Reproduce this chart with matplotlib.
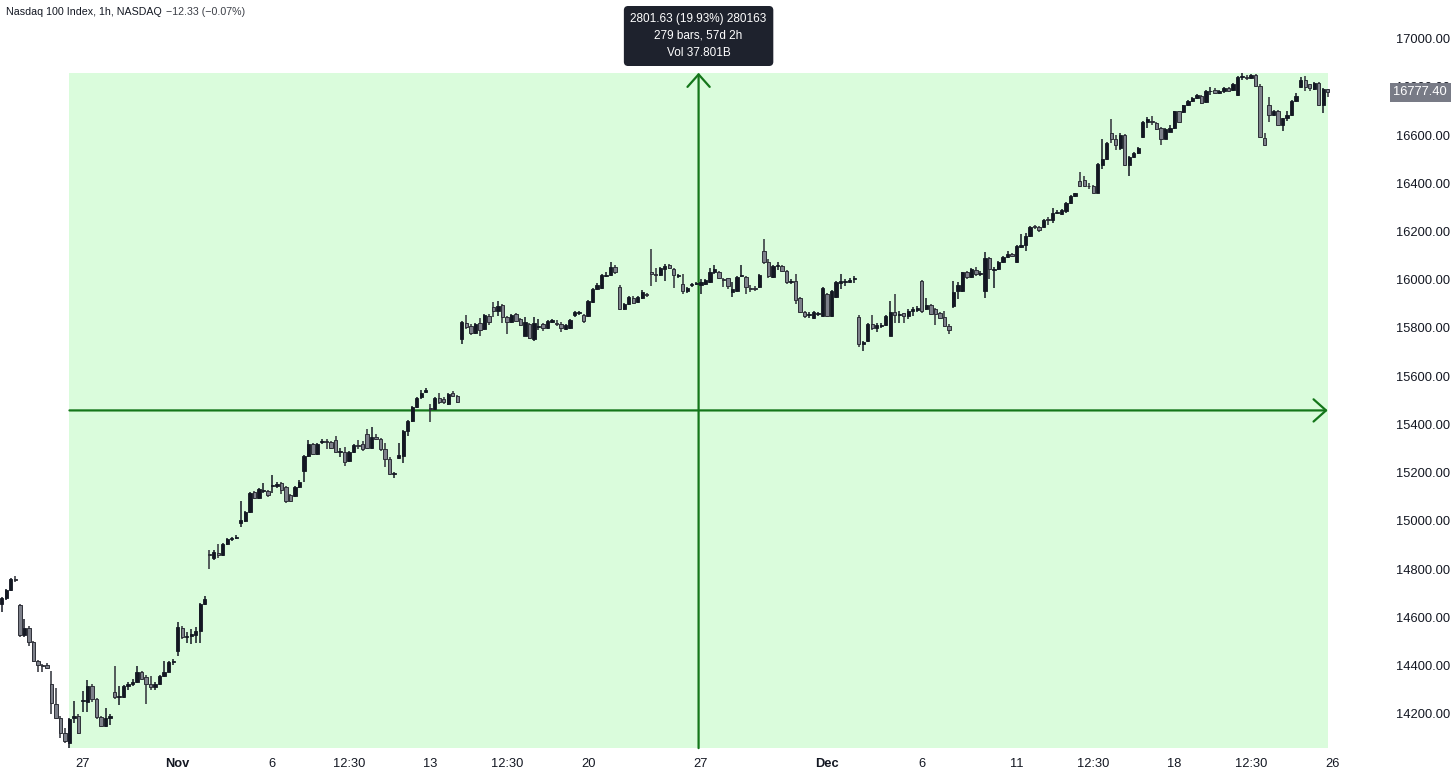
import numpy as np
import matplotlib.pyplot as plt
import matplotlib.transforms as mtransforms
from matplotlib.patches import Rectangle

plt.rcParams['font.family'] = ['Liberation Sans', 'DejaVu Sans']

# hourly NDX bars, one row per session (Oct 24 partial ... Dec 22)
opens = [
    14656, 14681, 14714, 14758,
    14652, 14528, 14557, 14499, 14420, 14404, 14404,
    14325, 14242, 14184, 14118, 14077, 14184, 14192,
    14254, 14250, 14317, 14263, 14188, 14151, 14184,
    14292, 14271, 14271, 14313, 14325, 14333, 14375,
    14354, 14325, 14312, 14325, 14358, 14375, 14416,
    14462, 14557, 14520, 14524, 14528, 14544, 14656,
    14860, 14847, 14868, 14860, 14905, 14925, 14928,
    14992, 15000, 15037, 15120, 15095, 15124, 15124,
    15145, 15145, 15157, 15141, 15108, 15104, 15141,
    15207, 15269, 15319, 15277, 15327, 15331, 15327,
    15335, 15286, 15286, 15248, 15286, 15314, 15319,
    15360, 15302, 15348, 15340, 15298, 15257, 15195,
    15261, 15269, 15373, 15414, 15472, 15513, 15534,
    15468, 15464, 15509, 15505, 15484, 15530, 15518,
    15754, 15820, 15808, 15778, 15820, 15795, 15849,
    15886, 15870, 15895, 15845, 15824, 15857, 15836,
    15766, 15816, 15754, 15803, 15816, 15799, 15824,
    15820, 15816, 15795, 15799, 15853, 15862, 15853,
    15849, 15907, 15961, 15965, 16015, 16019, 16052,
    15969, 15878, 15899, 15924, 15907, 15924, 15940,
    16031, 16023, 16019, 16044, 16060, 16044, 16015,
    15981, 15952, 15977, 15981,
    15977, 15981, 15990, 16031, 16031, 16002, 16006,
    15948, 15952, 16015, 16010, 15965, 15965, 15969,
    16118, 16073, 16010, 16056, 16056, 16035, 15990,
    15994, 15924, 15866, 15853, 15841, 15857, 15849,
    15940, 15849, 15928, 15985, 15990, 15990, 16002,
    15845, 15733, 15745, 15816, 15799, 15807, 15812,
    15766, 15866, 15853, 15862, 15849, 15870, 15874,
    15994, 15878, 15895, 15878, 15862, 15845, 15808,
    15891, 15952, 15952, 16031, 16010, 16040, 16023,
    15952, 16089, 16040, 16044, 16073, 16093, 16106,
    16073, 16135, 16143, 16180, 16225, 16220, 16217,
    16254, 16246, 16279, 16271, 16284, 16317, 16346,
    16408, 16412, 16391, 16391, 16362, 16478, 16499,
    16607, 16586, 16545, 16602, 16478, 16511, 16524,
    16594, 16656, 16660, 16652, 16631, 16586, 16615,
    16631, 16698, 16694, 16723, 16743, 16752, 16764,
    16739, 16781, 16789, 16776, 16781, 16797, 16789,
    16768, 16843, 16840, 16838, 16851, 16805, 16590,
    16723, 16685, 16702, 16644, 16669, 16685, 16743,
    16801, 16830, 16810, 16793, 16818, 16723, 16789.73,
]
highs = [
    14685, 14718, 14764, 14770,
    14656, 14594, 14562, 14503, 14424, 14408, 14412,
    14379, 14308, 14190, 14139, 14184, 14254, 14198,
    14296, 14338, 14325, 14267, 14192, 14225, 14200,
    14400, 14317, 14321, 14330, 14342, 14400, 14379,
    14362, 14358, 14330, 14362, 14420, 14420, 14428,
    14580, 14565, 14540, 14550, 14560, 14660, 14690,
    14880, 14880, 14905, 14910, 14930, 14935, 14940,
    15083, 15040, 15120, 15124, 15136, 15157, 15128,
    15190, 15160, 15161, 15145, 15112, 15145, 15170,
    15273, 15335, 15323, 15323, 15340, 15340, 15331,
    15352, 15302, 15306, 15290, 15318, 15335, 15331,
    15381, 15390, 15360, 15344, 15323, 15265, 15203,
    15323, 15377, 15418, 15476, 15513, 15542, 15550,
    15484, 15513, 15530, 15513, 15530, 15538, 15522,
    15828, 15853, 15816, 15820, 15841, 15857, 15857,
    15907, 15911, 15899, 15849, 15857, 15862, 15840,
    15845, 15820, 15845, 15836, 15820, 15832, 15836,
    15832, 15824, 15816, 15836, 15870, 15870, 15857,
    15915, 15965, 15986, 16023, 16031, 16073, 16060,
    15977, 15903, 15932, 15932, 15932, 15957, 15944,
    16126, 16048, 16052, 16065, 16065, 16048, 16023,
    16023, 15970, 15986, 15990,
    16002, 16002, 16048, 16060, 16035, 16006, 16006,
    15990, 16015, 16060, 16015, 15977, 15973, 16023,
    16168, 16085, 16060, 16073, 16060, 16040, 16002,
    16023, 15928, 15870, 15866, 15870, 15866, 15969,
    15944, 15957, 15994, 16023, 16002, 16006, 16015,
    15853, 15745, 15820, 15853, 15820, 15820, 15853,
    15911, 15940, 15870, 15862, 15878, 15886, 15890,
    15998, 15924, 15899, 15882, 15866, 15870, 15816,
    15994, 15990, 16031, 16035, 16048, 16052, 16035,
    16114, 16093, 16052, 16077, 16098, 16118, 16110,
    16143, 16188, 16196, 16221, 16229, 16225, 16254,
    16262, 16296, 16290, 16292, 16321, 16350, 16362,
    16445, 16429, 16400, 16395, 16486, 16582, 16573,
    16665, 16602, 16607, 16606, 16515, 16528, 16549,
    16660, 16677, 16680, 16656, 16635, 16631, 16640,
    16702, 16702, 16727, 16747, 16760, 16772, 16768,
    16789, 16801, 16797, 16789, 16801, 16801, 16818,
    16847, 16858.9, 16851, 16855, 16855, 16810, 16607,
    16760, 16706, 16706, 16673, 16698, 16747, 16776,
    16843, 16845, 16814, 16822, 16822, 16797, 16793,
]
lows = [
    14623, 14672, 14710, 14748,
    14520, 14520, 14482, 14416, 14375, 14375, 14388,
    14197, 14180, 14098, 14077, 14057.27, 14160, 14114,
    14209, 14209, 14250, 14180, 14143, 14143, 14155,
    14263, 14238, 14267, 14300, 14317, 14329, 14338,
    14242, 14300, 14300, 14320, 14354, 14371, 14404,
    14440, 14510, 14495, 14490, 14495, 14495, 14650,
    14801, 14838, 14845, 14855, 14900, 14915, 14925,
    14975, 14995, 15033, 15090, 15090, 15116, 15100,
    15116, 15138, 15112, 15075, 15079, 15100, 15137,
    15161, 15265, 15273, 15273, 15319, 15300, 15298,
    15282, 15265, 15228, 15244, 15282, 15298, 15290,
    15298, 15298, 15335, 15290, 15224, 15190, 15178,
    15257, 15240, 15352, 15410, 15468, 15505, 15530,
    15410, 15460, 15484, 15484, 15480, 15513, 15489,
    15733, 15795, 15770, 15774, 15766, 15791, 15812,
    15845, 15849, 15820, 15774, 15820, 15824, 15808,
    15766, 15754, 15745, 15791, 15787, 15795, 15820,
    15808, 15783, 15791, 15795, 15845, 15853, 15820,
    15845, 15903, 15957, 15961, 16010, 16015, 16023,
    15874, 15874, 15895, 15899, 15903, 15919, 15928,
    15973, 15990, 16015, 15994, 16044, 15965, 16006,
    15940, 15944, 15969, 15977,
    15940, 15977, 15986, 16023, 16002, 15969, 15961,
    15928, 15948, 16010, 15940, 15948, 15952, 15965,
    16064, 16006, 16006, 16040, 16031, 15981, 15981,
    15899, 15862, 15841, 15841, 15837, 15849, 15845,
    15845, 15845, 15924, 15961, 15973, 15986, 15986,
    15720, 15704, 15741, 15791, 15783, 15799, 15808,
    15766, 15820, 15820, 15820, 15836, 15850, 15866,
    15862, 15874, 15853, 15812, 15836, 15803, 15774,
    15882, 15920, 15948, 16002, 16006, 16015, 16015,
    15924, 16002, 15965, 16040, 16069, 16089, 16093,
    16069, 16130, 16118, 16176, 16209, 16200, 16213,
    16229, 16237, 16271, 16267, 16279, 16313, 16342,
    16387, 16387, 16375, 16358, 16358, 16458, 16495,
    16569, 16540, 16540, 16474, 16429, 16507, 16520,
    16590, 16630, 16640, 16623, 16557, 16582, 16611,
    16627, 16652, 16690, 16719, 16739, 16748, 16731,
    16735, 16768, 16772, 16772, 16776, 16781, 16785,
    16764, 16830, 16830, 16834, 16801, 16590, 16557,
    16656, 16681, 16640, 16619, 16660, 16681, 16739,
    16797, 16781, 16781, 16789, 16719, 16690, 16760,
]
closes = [
    14681, 14714, 14760, 14755,
    14528, 14557, 14499, 14420, 14404, 14400, 14391,
    14246, 14184, 14118, 14085, 14180, 14192, 14122,
    14258, 14317, 14263, 14188, 14151, 14184, 14192,
    14271, 14275, 14317, 14325, 14333, 14375, 14342,
    14325, 14312, 14325, 14358, 14375, 14416, 14420,
    14561, 14520, 14524, 14530, 14544, 14656, 14677,
    14858, 14872, 14860, 14905, 14925, 14928, 14930,
    15004, 15037, 15116, 15095, 15132, 15128, 15108,
    15150, 15153, 15128, 15083, 15083, 15141, 15161,
    15269, 15319, 15277, 15319, 15331, 15327, 15302,
    15286, 15286, 15244, 15286, 15314, 15310, 15298,
    15302, 15348, 15340, 15298, 15257, 15195, 15199,
    15273, 15373, 15414, 15472, 15509, 15530, 15542,
    15464, 15509, 15493, 15493, 15526, 15518, 15493,
    15824, 15803, 15778, 15816, 15791, 15853, 15824,
    15870, 15890, 15845, 15824, 15853, 15828, 15812,
    15824, 15758, 15820, 15807, 15799, 15828, 15832,
    15816, 15799, 15812, 15832, 15866, 15862, 15828,
    15911, 15961, 15977, 16019, 16019, 16052, 16031,
    15878, 15899, 15928, 15903, 15928, 15948, 15936,
    16023, 16019, 16048, 16056, 16048, 16019, 16015,
    15952, 15965, 15977, 15985,
    15990, 15998, 16031, 16044, 16006, 15998, 15973,
    15961, 16010, 16019, 15969, 15961, 15961, 16019,
    16073, 16015, 16056, 16060, 16035, 15990, 15994,
    15915, 15866, 15849, 15853, 15866, 15857, 15965,
    15849, 15952, 15990, 15994, 15990, 15998, 16006,
    15733, 15741, 15816, 15799, 15812, 15812, 15849,
    15866, 15853, 15857, 15849, 15870, 15878, 15882,
    15870, 15895, 15857, 15857, 15841, 15808, 15791,
    15948, 15977, 16031, 16010, 16044, 16023, 16023,
    16089, 16044, 16044, 16073, 16093, 16106, 16098,
    16139, 16143, 16180, 16217, 16217, 16205, 16250,
    16246, 16279, 16281, 16288, 16317, 16346, 16358,
    16391, 16391, 16387, 16362, 16482, 16503, 16569,
    16582, 16557, 16602, 16478, 16511, 16524, 16545,
    16656, 16665, 16656, 16627, 16586, 16627, 16631,
    16698, 16656, 16723, 16743, 16756, 16768, 16735,
    16785, 16785, 16776, 16781, 16797, 16785, 16814,
    16843, 16845, 16838, 16851, 16805, 16594, 16561,
    16685, 16702, 16644, 16669, 16685, 16743, 16764,
    16830, 16801, 16797, 16818, 16723, 16789.73, 16777.40,
]
first_bar = -18  # bar index of the first visible bar (Oct 27 09:30 = 0)

# date labels on the time scale: (bar index, label)
xtick_bars = [0, 21, 42, 59, 77, 94, 112, 137, 165, 186, 207, 224, 242, 259, 277]
xtick_labels = ['27', 'Nov', '6', '12:30', '13', '12:30', '20', '27', 'Dec',
                '6', '11', '12:30', '18', '12:30', '26']
ytick_values = list(range(14200, 17001, 200))

title = 'Nasdaq 100 Index, 1h, NASDAQ'
change_text = '\u221212.33 (\u22120.07%)'
range_text = '2801.63 (19.93%) 280163\n279 bars, 57d 2h\nVol 37.801B'
last_price = closes[-1]

o = np.array(opens, dtype=float)
h = np.array(highs, dtype=float)
l = np.array(lows, dtype=float)
c = np.array(closes, dtype=float)
x = np.arange(len(c)) + first_bar
up = c >= o

fig = plt.figure(figsize=(14.56, 7.72), dpi=100)
fig.patch.set_facecolor('white')
ax = fig.add_axes([0, 22 / 772, 1385 / 1456, 750 / 772])
ax.set_xlim(-18.4, 288.7)
ax.set_ylim(14049.5, 17160.5)
for s in ax.spines.values():
    s.set_visible(False)

# price range measurement (from the low to the last bar)
green = '#14761a'
x0 = x[np.argmin(l)]
x1 = x[-1]
y0 = l.min()
y1 = h.max()
ax.add_patch(Rectangle((x0 - 0.1, y0), x1 - x0 + 0.1, y1 - y0,
                       facecolor='#dafcdc', edgecolor='none', zorder=0))
xm = (x0 + x1) / 2
ym = (y0 + y1) / 2
arrow = dict(arrowstyle='->,head_length=0.45,head_width=0.4', color=green,
             lw=1.6, shrinkA=0, shrinkB=0, mutation_scale=20)
ax.annotate('', xy=(x1, ym), xytext=(x0, ym), arrowprops=arrow, zorder=2)
ax.annotate('', xy=(xm, y1), xytext=(xm, y0), arrowprops=arrow, zorder=2)

# candles
body_low = np.minimum(o, c)
body_h = np.maximum(np.abs(c - o), 4)
ax.vlines(x[up], l[up], h[up], colors='#131722', lw=1.1, zorder=3)
ax.vlines(x[~up], l[~up], h[~up], colors='#2e3038', lw=1.1, zorder=3)
ax.bar(x[up], body_h[up], bottom=body_low[up], width=0.74,
       color='#131722', edgecolor='#131722', lw=0.6, zorder=4)
ax.bar(x[~up], body_h[~up], bottom=body_low[~up], width=0.74,
       color='#7d808a', edgecolor='#2e3038', lw=0.7, zorder=4)

# axes / ticks
ax.yaxis.tick_right()
ax.set_yticks(ytick_values)
ax.set_yticklabels([f'{v:.2f}' for v in ytick_values])
ax.set_xticks(xtick_bars)
ax.set_xticklabels(xtick_labels)
for t in ax.get_xticklabels():
    if t.get_text() in ('Nov', 'Dec'):
        t.set_fontweight('bold')
ax.tick_params(axis='y', length=0, pad=8, labelsize=9.3, labelcolor='#131722')
ax.tick_params(axis='x', length=0, pad=6, labelsize=9.3, labelcolor='#131722')

# last price tag
tag_tr = mtransforms.blended_transform_factory(ax.transAxes, ax.transData)
ax.text(1.006, last_price, f'{last_price:.2f}', transform=tag_tr,
        ha='left', va='center', fontsize=9.3, color='white', zorder=6,
        clip_on=False,
        bbox=dict(boxstyle='square,pad=0.28', fc='#787b86', ec='none'))

# range info box
box_tr = mtransforms.blended_transform_factory(ax.transData, ax.transAxes)
ax.text(xm, 0.952, range_text, transform=box_tr, ha='center', va='center',
        fontsize=8.5, color='white', linespacing=1.6, zorder=6,
        clip_on=False,
        bbox=dict(boxstyle='round,pad=0.5,rounding_size=0.3',
                  fc='#1e222d', ec='#1e222d'))

fig.text(6 / 1456, 1 - 12 / 772, title, ha='left', va='center',
         fontsize=7.7, color='#131722')
fig.text(166 / 1456, 1 - 12 / 772, change_text, ha='left', va='center',
         fontsize=7.7, color='#3c3f47')

fig.savefig('out.png', dpi=100)
